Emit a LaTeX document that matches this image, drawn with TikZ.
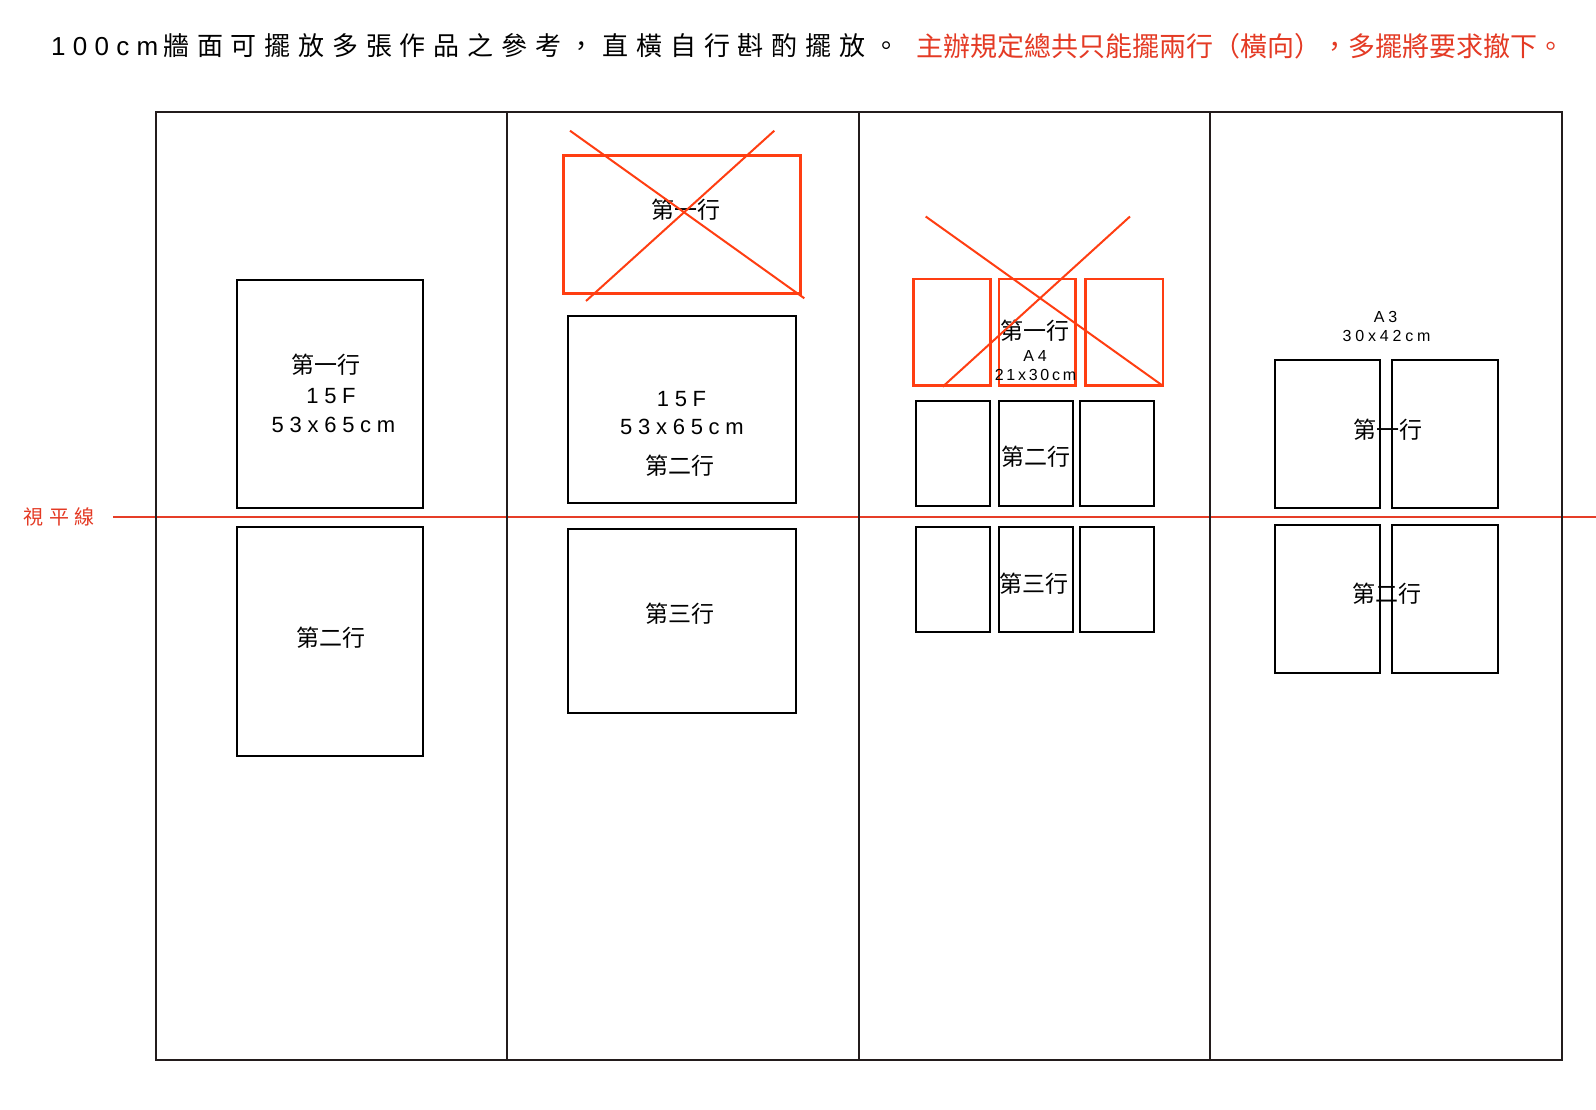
\documentclass[tikz,border=0pt]{standalone}
\usepackage{fontspec}
\setmainfont{Noto Sans CJK TC}
\newfontfamily\cjk{Noto Sans CJK TC}
\newfontfamily\cjksp[LetterSpace=30]{Noto Sans CJK TC}
\newfontfamily\hzsp[LetterSpace=28]{Noto Sans CJK TC}
\newfontfamily\latsp[LetterSpace=28]{Liberation Sans}
\newfontfamily\latbox[LetterSpace=26]{Liberation Sans}
\newfontfamily\latsmall[LetterSpace=24]{Liberation Sans}
\newfontfamily\latnarrow[LetterSpace=17]{Liberation Sans}
\definecolor{titlered}{RGB}{228,58,36}
\definecolor{crossred}{RGB}{255,62,18}
\definecolor{horizred}{RGB}{230,62,40}
\definecolor{framec}{RGB}{35,28,28}
\tikzset{
  frameline/.style={draw=framec, line width=2pt},
  artbox/.style={draw=black, line width=2pt},
  redbox/.style={draw=crossred, line width=2.5pt},
  crossline/.style={draw=crossred, line width=2pt},
  horizon/.style={draw=horizred, line width=1.6pt},
  lbl/.style={inner sep=0pt, font=\cjk\fontsize{23pt}{23pt}\selectfont},
  num/.style={inner sep=0pt, font=\latbox\fontsize{22pt}{22pt}\selectfont},
  small/.style={inner sep=0pt, font=\latsmall\fontsize{16pt}{16pt}\selectfont},
  smallnarrow/.style={inner sep=0pt, font=\latnarrow\fontsize{16pt}{16pt}\selectfont},
}
\begin{document}
\begin{tikzpicture}[x=1pt,y=-1pt]
\useasboundingbox[fill=white] (0,0) rectangle (1596,1110);

% titles
\node[inner sep=0pt, anchor=west, font=\fontsize{26pt}{26pt}\selectfont] (title) at (51,46)
  {{\latsp 100cm}\hspace{5pt}{\cjksp 牆面可擺放多張作品之參考，直橫自行斟酌擺放。}};
\node[inner sep=0pt, anchor=west, text=titlered, font=\cjk\fontsize{27pt}{27pt}\selectfont] (rule) at (916,46)
  {主辦規定總共只能擺兩行（橫向），多擺將要求撤下。};

% horizon
\node[inner sep=0pt, anchor=west, text=titlered, font=\hzsp\fontsize{20pt}{20pt}\selectfont] (hzlabel) at (23.5,517) {視平線};
\coordinate (hz0) at (113,517);
\coordinate (hz1) at (1596,517);
\draw[horizon] (hz0) -- (hz1);

% wall frame
\draw[frameline] (155.7,112) rectangle (1561.6,1060);
\draw[frameline] (507.2,112) -- (507.2,1060);
\draw[frameline] (858.7,112) -- (858.7,1060);
\draw[frameline] (1210.2,112) -- (1210.2,1060);

% column 1
\draw[artbox] (236.7,280) rectangle (423.3,508.3);
\draw[artbox] (236.7,527.3) rectangle (423.3,756);
\node[lbl] (c1a) at (326,364.5) {第一行};
\node[num] (c1b) at (331,396) {15F};
\node[num] (c1c) at (333.5,424.5) {53x65cm};
\node[lbl] (c1d) at (331,638) {第二行};

% column 2
\draw[redbox] (563.3,155.7) rectangle (800.7,293.7);
\node[lbl] (c2a) at (686,209.7) {第一行};
\draw[crossline] (570,130.7) -- (804.3,298.3);
\draw[crossline] (774.3,130.7) -- (586,301);
\draw[artbox] (567.7,316) rectangle (796,502.5);
\node[num] (c2b) at (681.5,399) {15F};
\node[num] (c2c) at (682,426.5) {53x65cm};
\node[lbl] (c2d) at (680,466) {第二行};
\draw[artbox] (567.7,529) rectangle (796,713);
\node[lbl] (c2e) at (680,614) {第三行};

% column 3
\draw[redbox] (913.5,279) rectangle (990.5,385.7);
\draw[redbox] (999,279) rectangle (1075.7,385.7);
\draw[redbox] (1085.5,279) rectangle (1162.8,385.7);
\node[lbl] (c3a) at (1035,331) {第一行};
\node[small] (c3b) at (1035,355.5) {A4};
\node[smallnarrow] (c3c) at (1035.5,374.5) {21x30cm};
\draw[crossline] (925.7,216.5) -- (1162.7,385.7);
\draw[crossline] (1130,216.5) -- (942.7,386.7);
\draw[artbox] (916,400.5) rectangle (990.3,506);
\draw[artbox] (998.7,400.5) rectangle (1072.7,506);
\draw[artbox] (1079.7,400.5) rectangle (1154,506);
\node[lbl] (c3d) at (1035.5,456.5) {第二行};
\draw[artbox] (916,527) rectangle (990.3,632.3);
\draw[artbox] (998.7,527) rectangle (1072.7,632.3);
\draw[artbox] (1079.7,527) rectangle (1154,632.3);
\node[lbl] (c3e) at (1034,583.5) {第三行};

% column 4
\node[small] (c4a) at (1385.5,316.6) {A3};
\node[small] (c4b) at (1386.5,336) {30x42cm};
\draw[artbox] (1275,360.3) rectangle (1380.3,508.3);
\draw[artbox] (1392.3,360.3) rectangle (1497.5,508.3);
\draw[artbox] (1275,525.3) rectangle (1380.3,673.3);
\draw[artbox] (1392.3,525.3) rectangle (1497.5,673.3);
\node[lbl] (c4c) at (1388,430) {第一行};
\node[lbl] (c4d) at (1386.5,593.5) {第二行};
\end{tikzpicture}
\end{document}
